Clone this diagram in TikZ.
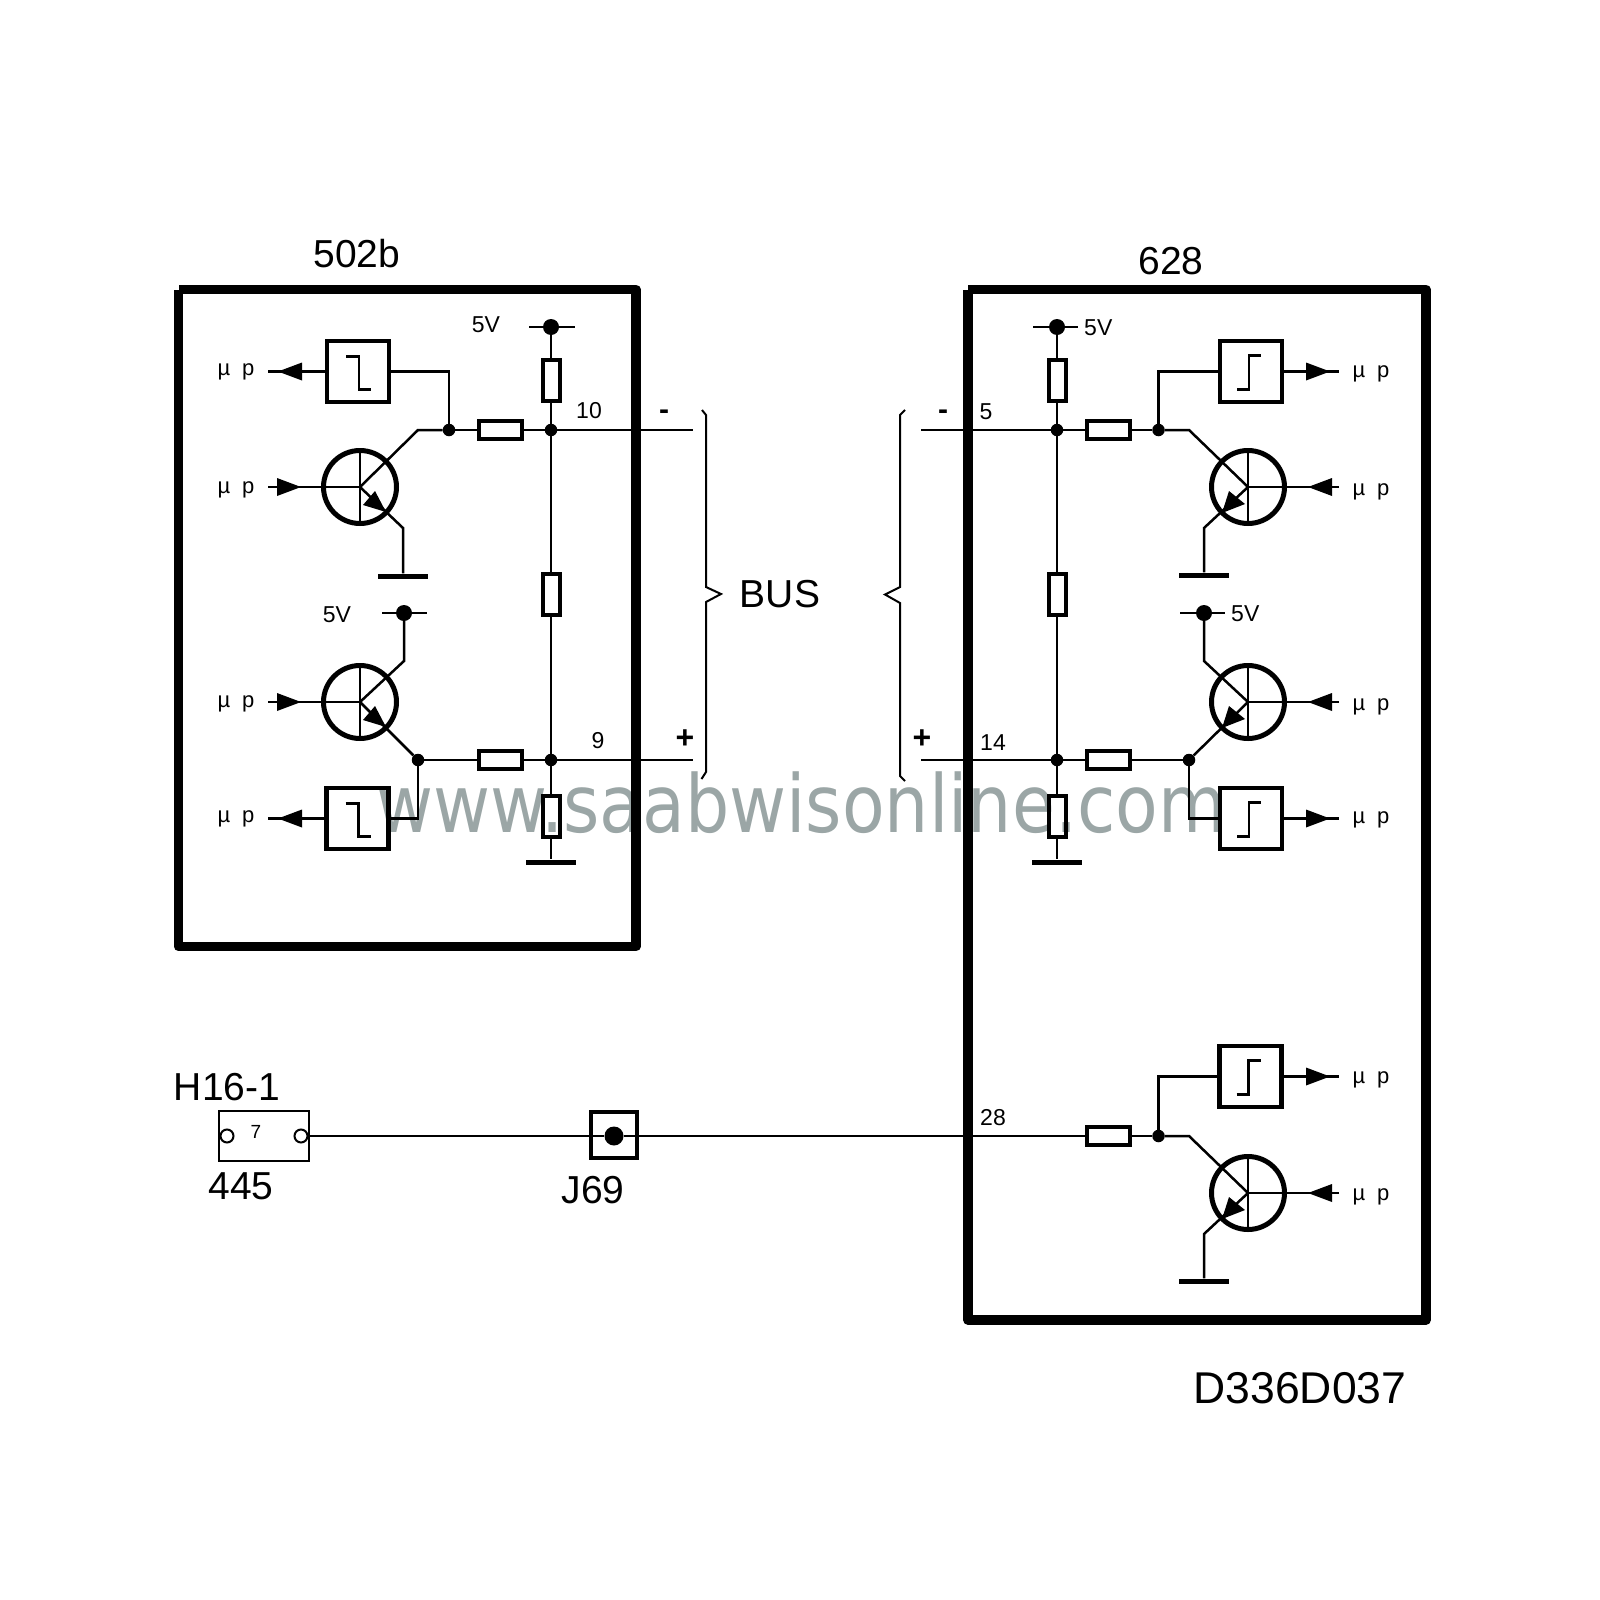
\documentclass[tikz,border=0pt]{standalone}
\usepackage{fontspec}
\usepackage{graphicx}
\setmainfont{Liberation Sans}
\newfontfamily\wmfont{DejaVu Sans}
\definecolor{wmgray}{HTML}{9BA6A6}
\newcommand{\fs}[1]{\fontsize{#1}{#1}\selectfont}
% filled arrowhead: tip x, y, direction (+1 opens to the right, -1 to the left)
\newcommand{\tri}[3]{\fill (#1,#2) -- ++(#3*24,-9) -- ++(0,18) -- cycle;}
% transistor: name, x, y; arrow side +1 emitter right, -1 emitter left
\newcommand{\transR}[3]{\node[trans] (#1) at (#2,#3) {};
  \draw[thinw] (#1.north) -- (#1.south);
  \fill (#1.center) ++(26,25) -- ++(-23,-7) -- ++(12,-14) -- cycle;}
\newcommand{\transL}[3]{\node[trans] (#1) at (#2,#3) {};
  \draw[thinw] (#1.north) -- (#1.south);
  \fill (#1.center) ++(-26,26) -- ++(7,-22) -- ++(16,13) -- cycle;}
% comparators
\newcommand{\compL}[3]{\node[comp] (#1) at (#2,#3) {};
  \draw[wire] (#1.center) ++(-12,-15) -- ++(13,0) -- ++(0,33) -- ++(12,0);}
\newcommand{\compR}[3]{\node[comp] (#1) at (#2,#3) {};
  \draw[wire] (#1.center) ++(-14,18) -- ++(12,0) -- ++(0,-34) -- ++(12,0);}
\tikzset{
  x=1pt,y=-1pt,
  wire/.style={line width=2.5pt},
  thinw/.style={line width=2pt},
  frame/.style={line width=9.5pt,line join=round},
  res/.style={draw,rectangle,line width=4pt,inner sep=0pt},
  resh/.style={res,minimum width=43pt,minimum height=17.5pt},
  resv/.style={res,minimum width=17pt,minimum height=41.5pt},
  comp/.style={draw,rectangle,line width=4.5pt,inner sep=0pt,minimum width=62pt,minimum height=61pt},
  trans/.style={draw,circle,line width=5pt,inner sep=0pt,minimum size=73pt},
  jct/.style={fill,circle,inner sep=0pt,minimum size=12.5pt},
  supply/.style={fill,circle,inner sep=0pt,minimum size=16pt},
  gnd/.style={fill,rectangle,inner sep=0pt,minimum width=50pt,minimum height=5pt},
  big/.style={inner sep=0pt,font=\fs{39}},
  small/.style={inner sep=0pt,font=\fs{23}},
  mup/.style={inner sep=0pt,anchor=base,font=\fs{22}},
}
\newcommand{\mutext}{µ\hspace{12pt}p}
\begin{document}
\begin{tikzpicture}
\useasboundingbox (0,0) rectangle (1600,1600);
% watermark lies under the drawing
\node[inner sep=0pt,anchor=base west,text=wmgray,font=\wmfont\fs{80}] (wm) at (376,832) {\scalebox{0.872}[1]{www.saabwisonline.com}};

% frames
\draw[frame] (178.5,289.5) -- (178.5,946.5) -- (636,946.5) -- (636,289.5) -- (178.5,289.5);
\draw[frame] (968,289.5) -- (968,1320) -- (1426,1320) -- (1426,289.5) -- (968,289.5);

% labels
\node[big] (t502) at (357,254) {502b};
\node[big] (t628) at (1171,261) {628};
\node[big] (tbus) at (780,594) {BUS};
\node[big] (th16) at (227,1087) {H16-1};
\node[big] (t445) at (241,1186) {445};
\node[big] (tj69) at (593,1190) {J69};
\node[inner sep=0pt,font=\fs{44.5}] (tdoc) at (1300,1388) {D336D037};

\node[small] (v1) at (486,325) {5V};
\node[small] (v2) at (337,615) {5V};
\node[small,anchor=west] (v3) at (1084,328) {5V};
\node[small,anchor=west] (v4) at (1231,614) {5V};
\node[small] (n10) at (589,411) {10};
\node[small] (n9) at (598,741) {9};
\node[small] (n5) at (986,412) {5};
\node[small] (n14) at (993,743) {14};
\node[small] (n28) at (993,1118) {28};
\node[inner sep=0pt,font=\bfseries\fs{30}] (mnl) at (664,415) {-};
\node[inner sep=0pt,font=\bfseries\fs{32}] (pll) at (685,739) {+};
\node[inner sep=0pt,font=\bfseries\fs{30}] (mnr) at (943,415) {-};
\node[inner sep=0pt,font=\bfseries\fs{32}] (plr) at (922,739) {+};

\node[mup] (m1) at (236,375) {\mutext};
\node[mup] (m2) at (236,493) {\mutext};
\node[mup] (m3) at (236,707) {\mutext};
\node[mup] (m4) at (236,822) {\mutext};
\node[mup] (m5) at (1371,377) {\mutext};
\node[mup] (m6) at (1371,495) {\mutext};
\node[mup] (m7) at (1371,710) {\mutext};
\node[mup] (m8) at (1371,823) {\mutext};
\node[mup] (m9) at (1371,1083) {\mutext};
\node[mup] (m10) at (1371,1200) {\mutext};

% ---------- left unit
\node[supply] (ls1) at (551,327) {};
\node[resv] (lrv1) at (551,380.5) {};
\node[jct] (lj1) at (551,430) {};
\node[resv] (lrv2) at (551,594.5) {};
\node[jct] (lj2) at (551,760) {};
\node[resv] (lrv3) at (551,816.5) {};
\node[gnd] (lg3) at (551,862) {};
\node[resh] (lrh1) at (500,430) {};
\node[resh] (lrh2) at (500,760) {};
\node[jct] (ld1) at (449,430) {};
\node[jct] (ld2) at (418,760) {};
\node[supply] (ls2) at (404,613) {};
\node[gnd] (lg1) at (403,576) {};
\compL{lc1}{358}{371.5}
\compL{lc2}{357.5}{818.5}
\transR{lt1}{360}{487}
\transR{lt2}{360}{702}
\coordinate (lw1) at (693,430);
\coordinate (lw2) at (693,760);
\coordinate (lo1) at (268,371.5);
\coordinate (lo2) at (268,818.5);
\coordinate (li1) at (268,487);
\coordinate (li2) at (268,702);
\coordinate (lk1) at (449,371.5);
\coordinate (lk2) at (418,818.5);
\coordinate (lc1b) at (418,430);
\coordinate (le1b) at (403,528);
\coordinate (lc2b) at (404,661);

\draw[wire] (ls1.center) ++(-22,0) -- ++(46,0);
\draw[wire] (ls2.center) ++(-22,0) -- ++(45,0);
\draw[wire] (ls1) -- (lrv1);
\draw[wire] (lrv1) -- (lj1);
\draw[wire] (lj1) -- (lrv2);
\draw[wire] (lrv2) -- (lj2);
\draw[wire] (lj2) -- (lrv3);
\draw[wire] (lrv3) -- (lg3);
\draw[wire] (lj1) -- (lw1);
\draw[wire] (lj2) -- (lw2);
\draw[wire] (lrh1) -- (lj1);
\draw[wire] (lrh2) -- (lj2);
\draw[wire] (ld1) -- (lrh1);
\draw[wire] (ld2) -- (lrh2);
\draw[wire] (lc1) -- (lk1) -- (ld1);
\draw[wire] (ld2) -- (lk2) -- (lc2);
\draw[wire] (ld1) -- (lc1b) -- (lt1.center);
\draw[wire] (lt1.center) -- (le1b) -- (lg1);
\draw[wire] (ls2) -- (lc2b) -- (lt2.center);
\draw[wire] (lt2.center) -- (ld2);
\draw[wire] (li1) -- (lt1.center);
\draw[wire] (li2) -- (lt2.center);
\draw[wire] (lo1) -- (lc1);
\draw[wire] (lo2) -- (lc2);
\tri{278}{371.5}{1}
\tri{278}{818.5}{1}
\tri{301}{487}{-1}
\tri{301}{702}{-1}

% ---------- right unit
\node[supply] (rs1) at (1057,327) {};
\node[resv] (rrv1) at (1057,380.5) {};
\node[jct] (rj1) at (1057,430) {};
\node[resv] (rrv2) at (1057,594.5) {};
\node[jct] (rj2) at (1057,760) {};
\node[resv] (rrv3) at (1057,816.5) {};
\node[gnd] (rg3) at (1057,862) {};
\node[resh] (rrh1) at (1108,430) {};
\node[resh] (rrh2) at (1108,760) {};
\node[resh] (rrh3) at (1108,1136) {};
\node[jct] (rd1) at (1158.5,430) {};
\node[jct] (rd2) at (1189,760) {};
\node[jct] (rd3) at (1158.5,1136) {};
\node[supply] (rs2) at (1204,613) {};
\node[gnd] (rg1) at (1204,575) {};
\node[gnd] (rg2) at (1204,1281) {};
\compR{rc1}{1251}{371.5}
\compR{rc2}{1251}{818.5}
\compR{rc3}{1250.5}{1076.5}
\transL{rt1}{1248}{487}
\transL{rt2}{1248}{702}
\transL{rt3}{1248}{1193}
\coordinate (rw1) at (921,430);
\coordinate (rw2) at (921,760);
\coordinate (ro1) at (1339,371.5);
\coordinate (ro2) at (1339,818.5);
\coordinate (ro3) at (1339,1076.5);
\coordinate (ri1) at (1339,487);
\coordinate (ri2) at (1339,702);
\coordinate (ri3) at (1339,1193);
\coordinate (rk1) at (1158.5,371.5);
\coordinate (rk2) at (1189,818.5);
\coordinate (rk3) at (1158.5,1076.5);
\coordinate (rc1b) at (1189,430);
\coordinate (re1b) at (1204,528);
\coordinate (rc2b) at (1204,661);
\coordinate (rc3b) at (1189,1136);
\coordinate (re3b) at (1204,1234);

\draw[wire] (rs1.center) ++(-24,0) -- ++(45,0);
\draw[wire] (rs2.center) ++(-24,0) -- ++(45,0);
\draw[wire] (rs1) -- (rrv1);
\draw[wire] (rrv1) -- (rj1);
\draw[wire] (rj1) -- (rrv2);
\draw[wire] (rrv2) -- (rj2);
\draw[wire] (rj2) -- (rrv3);
\draw[wire] (rrv3) -- (rg3);
\draw[wire] (rw1) -- (rj1);
\draw[wire] (rw2) -- (rj2);
\draw[wire] (rj1) -- (rrh1);
\draw[wire] (rj2) -- (rrh2);
\draw[wire] (rrh1) -- (rd1);
\draw[wire] (rrh2) -- (rd2);
\draw[wire] (rrh3) -- (rd3);
\draw[wire] (rd1) -- (rk1) -- (rc1);
\draw[wire] (rd2) -- (rk2) -- (rc2);
\draw[wire] (rd3) -- (rk3) -- (rc3);
\draw[wire] (rd1) -- (rc1b) -- (rt1.center);
\draw[wire] (rt1.center) -- (re1b) -- (rg1);
\draw[wire] (rs2) -- (rc2b) -- (rt2.center);
\draw[wire] (rt2.center) -- (rd2);
\draw[wire] (rd3) -- (rc3b) -- (rt3.center);
\draw[wire] (rt3.center) -- (re3b) -- (rg2);
\draw[wire] (ri1) -- (rt1.center);
\draw[wire] (ri2) -- (rt2.center);
\draw[wire] (ri3) -- (rt3.center);
\draw[wire] (rc1) -- (ro1);
\draw[wire] (rc2) -- (ro2);
\draw[wire] (rc3) -- (ro3);
\tri{1330}{371.5}{-1}
\tri{1330}{818.5}{-1}
\tri{1330}{1076.5}{-1}
\tri{1308}{487}{1}
\tri{1308}{702}{1}
\tri{1308}{1193}{1}

% ---------- braces
\draw[thinw] (702,410) -- (706,415) -- (706,587) -- (721,594) -- (706,602) -- (706,772) -- (701.5,779);
\draw[thinw] (905,410) -- (900,415) -- (900,587) -- (885,594.5) -- (900,603) -- (900,776) -- (905,781);

% ---------- connector and splice
\node[draw,rectangle,line width=2pt,inner sep=0pt,minimum width=89.5pt,minimum height=50pt] (h16) at (263.75,1136) {};
\node[draw,circle,line width=2pt,inner sep=0pt,minimum size=13pt] (pl) at (227,1136) {};
\node[draw,circle,line width=2pt,inner sep=0pt,minimum size=13pt] (pr) at (301,1136) {};
\node[inner sep=0pt,font=\fs{19}] (n7) at (256,1132) {7};
\node[draw,rectangle,line width=4pt,inner sep=0pt,minimum width=46pt,minimum height=46pt] (j69) at (614,1134.5) {};
\node[fill,circle,inner sep=0pt,minimum size=19pt] (j69d) at (614,1136) {};
\draw[wire] (pr) -- (j69d);
\draw[wire] (j69d) -- (rrh3);
\end{tikzpicture}
\end{document}
